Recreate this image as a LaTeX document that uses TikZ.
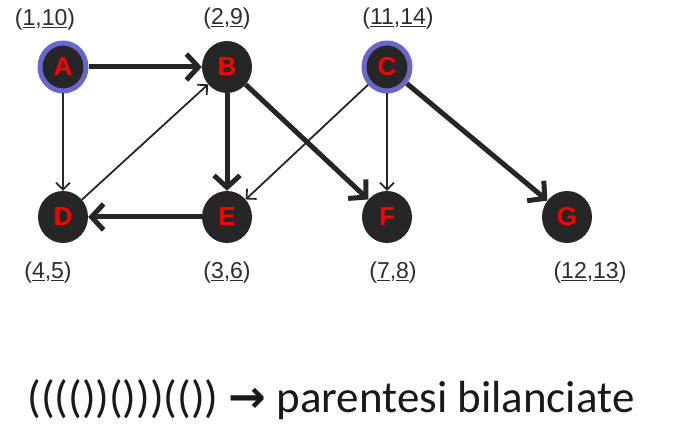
\documentclass[tikz,border=0pt]{standalone}
\usepackage{fontspec}
\setmainfont{Liberation Sans}
\newfontfamily\calibrifont{Carlito}
\newfontfamily\arrowfont{DejaVu Sans}
\usetikzlibrary{arrows.meta,shapes.geometric,positioning}
\definecolor{nodegray}{RGB}{38,38,38}
\definecolor{ringblue}{RGB}{104,104,204}
\definecolor{labelred}{RGB}{255,0,0}
\definecolor{textgray}{RGB}{45,45,45}

\begin{document}
\begin{tikzpicture}[
    x=1pt, y=-1pt,
    vertex/.style={ellipse, fill=nodegray, minimum width=50pt, minimum height=52pt, inner sep=0pt, text=labelred, font=\fontsize{26}{30}\selectfont\bfseries},
    rootvertex/.style={vertex, draw=ringblue, line width=5pt, minimum width=46pt, minimum height=48pt},
    times/.style={text=textgray, inner sep=1pt, font=\fontsize{23}{27}\selectfont},
    thinedge/.style={draw=nodegray, line width=1.8pt, -{Straight Barb[length=7pt, width=14pt]}},
    thickedge/.style={draw=nodegray, line width=5pt, -{Straight Barb[length=12pt, width=26pt]}}
]
\useasboundingbox (0,0) rectangle (673,433);

% --- NODES ---
\node[rootvertex] (A) at (63,67) {A};
\node[vertex] (B) at (227,67) {B};
\node[rootvertex] (C) at (387,67) {C};
\node[vertex] (D) at (63,217) {D};
\node[vertex] (E) at (227,217) {E};
\node[vertex] (F) at (387,217) {F};
\node[vertex] (G) at (567,217) {G};

% --- DISCOVERY / FINISH TIMES ---
\node[times] (timeA) at (45,20) {(\underline{1},\underline{10})};
\node[times] (timeB) at (227,19) {(\underline{2},\underline{9})};
\node[times] (timeC) at (398,19) {(\underline{11},\underline{14})};
\node[times] (timeD) at (48,273) {(\underline{4},\underline{5})};
\node[times] (timeE) at (227,273) {(\underline{3},\underline{6})};
\node[times] (timeF) at (393,273) {(\underline{7},\underline{8})};
\node[times] (timeG) at (590,273) {(\underline{12},\underline{13})};

% Arrows
\draw[thickedge] (A) -- (B);
\draw[thinedge] (A) -- (D);
\draw[thinedge] (D) -- (B);
\draw[thickedge] (B) -- (E);
\draw[thickedge] (B) -- (F);
\draw[thickedge] (E) -- (D);
\draw[thinedge] (C) -- (E);
\draw[thinedge] (C) -- (F);
\draw[thickedge] (C) -- (G);

% --- PARENTHESES ---
\node[text=black!90, inner sep=0pt, font=\fontsize{45}{54}\selectfont\calibrifont] (parens) at (331,400) {(((())()))(()) {\arrowfont\bfseries →} parentesi bilanciate};

\end{tikzpicture}
\end{document}
